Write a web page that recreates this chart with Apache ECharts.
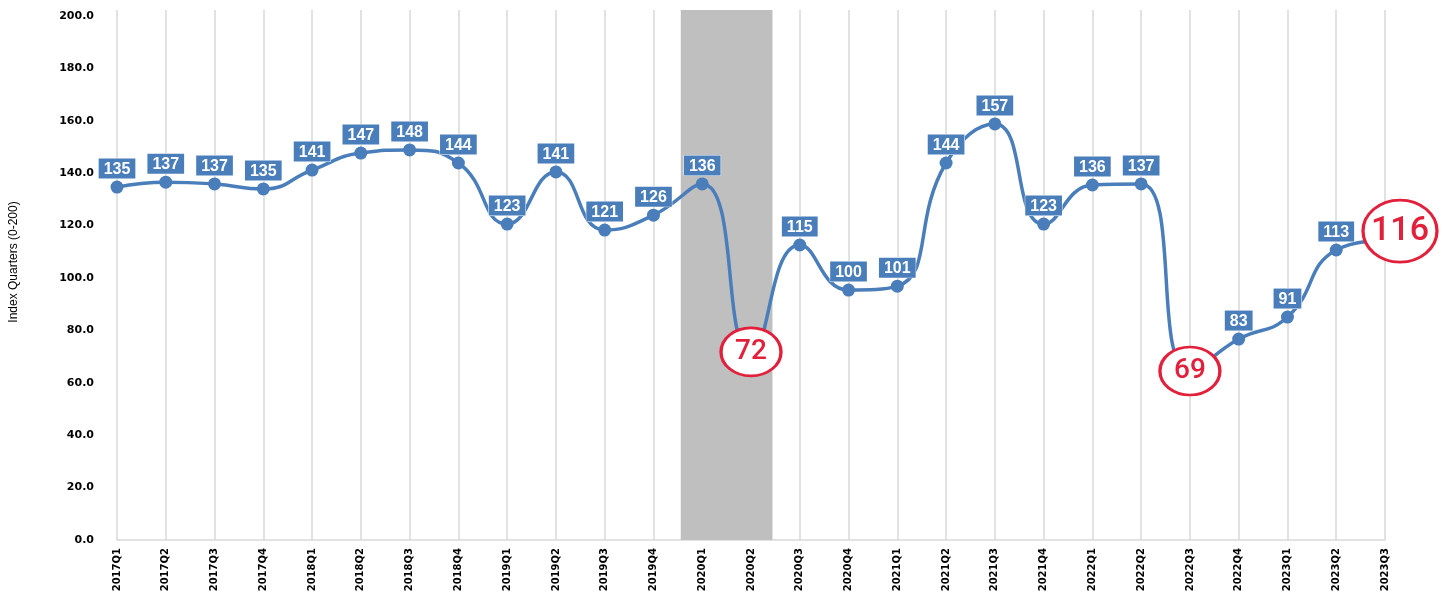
<!DOCTYPE html>
<html>
<head>
<meta charset="utf-8">
<script src="https://cdn.jsdelivr.net/npm/echarts@6/dist/echarts.min.js"></script>
<style>
html,body{margin:0;padding:0;background:#fff;}
#chart{width:1445px;height:595px;}
</style>
</head>
<body>
<div id="chart"></div>
<script>
const categories = ['2017Q1','2017Q2','2017Q3','2017Q4','2018Q1','2018Q2','2018Q3','2018Q4',
  '2019Q1','2019Q2','2019Q3','2019Q4','2020Q1','2020Q2','2020Q3','2020Q4',
  '2021Q1','2021Q2','2021Q3','2021Q4','2022Q1','2022Q2','2022Q3','2022Q4',
  '2023Q1','2023Q2','2023Q3'];
// plotted positions
const values = [134.7,136.6,135.9,134.0,141.2,147.7,148.9,143.9,
  120.6,140.5,118.3,124.0,135.9,71.8,112.6,95.4,
  96.9,143.9,158.8,120.6,135.5,135.9,64.5,76.7,
  85.1,110.7,114.5];
// data label texts shown in the picture
const labels = ['135','137','137','135','141','147','148','144',
  '123','141','121','126','136','72','115','100',
  '101','144','157','123','136','137','69','83',
  '91','113','116'];
const highlighted = ['2020Q2','2022Q3','2023Q3'];
const shadedRange = ['2020Q1','2020Q2'];
const yAxisName = 'Index Quarters (0-200)';

const BLUE = '#4a7ebb';
const RED = '#e3203b';

const lineData = values.map((v, i) => {
  const hi = highlighted.includes(categories[i]);
  return hi ? { value: v, symbolSize: 0, label: { show: false } } : v;
});

const hiData = highlighted.map((c, k) => {
  const i = categories.indexOf(c);
  const big = k === highlighted.length - 1;
  return {
    value: [c, values[i]],
    symbolSize: big ? [74, 62] : [60, 48],
    symbolOffset: big ? [15, -9] : [0, 0],
    label: { fontSize: big ? 34 : 28 },
    name: labels[i]
  };
});

const s0 = categories.indexOf(shadedRange[0]);
const s1 = categories.indexOf(shadedRange[1]);
const pad = 0.44;

const chart = echarts.init(document.getElementById('chart'), null, { renderer: 'canvas' });
chart.setOption({
  animation: false,
  backgroundColor: '#fff',
  grid: { left: 115, right: 60, top: 10, bottom: 55, containLabel: false },
  xAxis: [{
    type: 'category',
    data: categories,
    boundaryGap: false,
    axisLine: { show: true, lineStyle: { color: '#d9d9d9', width: 1.5 } },
    axisTick: { show: false },
    splitLine: { show: true, lineStyle: { color: '#d9d9d9', width: 1.5 } },
    axisLabel: {
      rotate: 90, margin: 8, color: '#000', fontSize: 10, fontWeight: 'bold',
      fontFamily: 'DejaVu Sans', interval: 0
    }
  }, {
    type: 'value', min: 0, max: categories.length - 1, show: false
  }],
  yAxis: {
    type: 'value', min: 0, max: 202.3, interval: 20,
    name: yAxisName, nameLocation: 'middle', nameGap: 97, nameRotate: 90,
    nameTextStyle: { color: '#000', fontSize: 12, fontFamily: 'Liberation Sans', padding: [0, 0, 0, 26] },
    axisLine: { show: false }, axisTick: { show: false }, splitLine: { show: false },
    axisLabel: {
      margin: 23, color: '#000', fontSize: 11, fontWeight: 'bold', fontFamily: 'DejaVu Sans',
      showMaxLabel: false,
      formatter: v => v.toFixed(1)
    }
  },
  series: [{
    type: 'line',
    xAxisIndex: 1,
    data: [],
    silent: true,
    markArea: {
      silent: true,
      itemStyle: { color: '#bfbfbf' },
      data: [[{ xAxis: s0 - pad }, { xAxis: s1 + pad }]]
    }
  }, {
    type: 'line',
    data: lineData,
    smooth: 0.5,
    symbol: 'circle',
    symbolSize: 13,
    z: 3,
    lineStyle: { color: BLUE, width: 3.5 },
    itemStyle: { color: BLUE },
    label: {
      show: true, position: 'top', distance: 2,
      formatter: p => labels[p.dataIndex],
      backgroundColor: BLUE, color: '#fff', fontSize: 16, fontWeight: 'bold',
      fontFamily: 'Liberation Sans', padding: [3, 5, 1, 5], lineHeight: 16,
      borderColor: '#fff', borderWidth: 0.5
    }
  }, {
    type: 'scatter',
    data: hiData,
    symbol: 'circle',
    z: 5,
    itemStyle: { color: '#fff', borderColor: RED, borderWidth: 3, opacity: 1 },
    label: {
      show: true, position: 'inside', color: RED, fontFamily: 'Roboto', fontWeight: 500,
      formatter: p => p.name
    }
  }]
});
</script>
</body>
</html>
